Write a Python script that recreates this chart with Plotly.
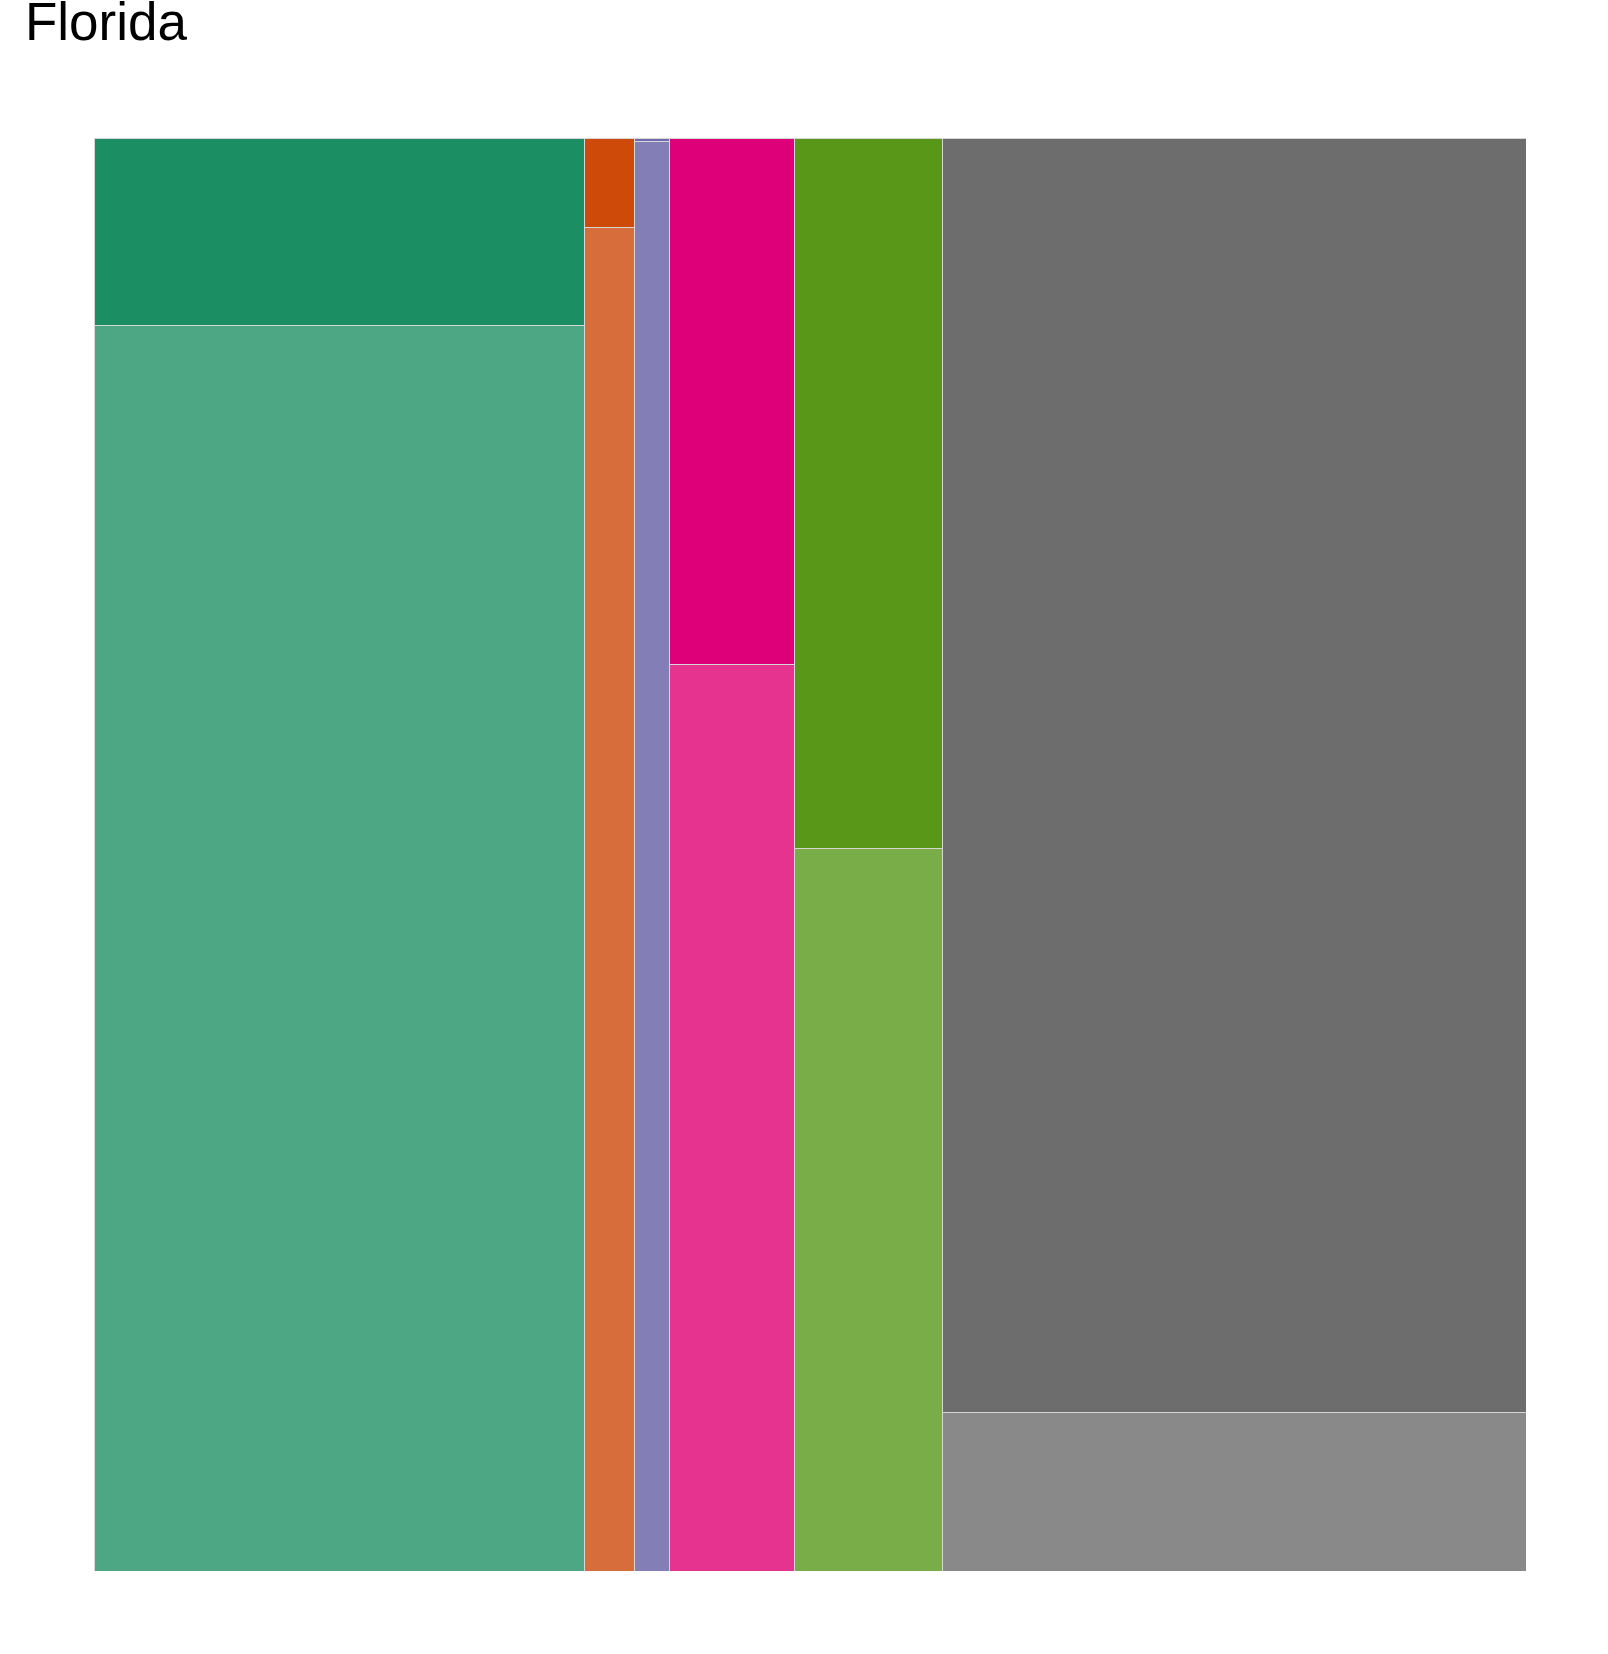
import numpy as np
import plotly.graph_objects as go

# Data
categories = ["A", "B", "C", "D", "E", "F"]
column_share = [0.3427, 0.0346, 0.0244, 0.0876, 0.1032, 0.4075]   # width share of each column
top_share = [0.1305, 0.0623, 0.0026, 0.3676, 0.4957, 0.8893]      # share of upper segment
top_colors = ["#1B8E64", "#CD4A08", "#6F6AB0", "#DD0079", "#589717", "#6D6D6D"]
bottom_colors = ["#4DA784", "#D76D3A", "#837EB5", "#E5338F", "#78AD48", "#898989"]

widths = np.array(column_share)
widths = widths / widths.sum()
left = np.concatenate([[0], np.cumsum(widths)[:-1]])
centers = left + widths / 2
top = np.array(top_share)
bottom = 1 - top

line = dict(color="#D6D6D6", width=1)
fig = go.Figure()
fig.add_trace(go.Bar(x=centers, y=bottom, width=widths, marker=dict(color=bottom_colors, line=line),
                     name="bottom", showlegend=False, hovertext=categories))
fig.add_trace(go.Bar(x=centers, y=top, width=widths, marker=dict(color=top_colors, line=line),
                     name="top", showlegend=False, hovertext=categories))

fig.update_layout(
    barmode="stack",
    width=1608, height=1654,
    margin=dict(l=93.5, r=82, t=138, b=83),
    paper_bgcolor="white", plot_bgcolor="white",
    title=dict(text="Florida", x=0.0155, xanchor="left", y=0.9982, yanchor="top", yref="container",
               font=dict(family="Liberation Sans, Arial, sans-serif", size=53, color="black")),
    xaxis=dict(range=[0, 1], visible=False, fixedrange=True),
    yaxis=dict(range=[0, 1], visible=False, fixedrange=True),
)
fig.write_html("out.html", config={"displayModeBar": False},
               post_script="document.body.style.margin='0px';")
